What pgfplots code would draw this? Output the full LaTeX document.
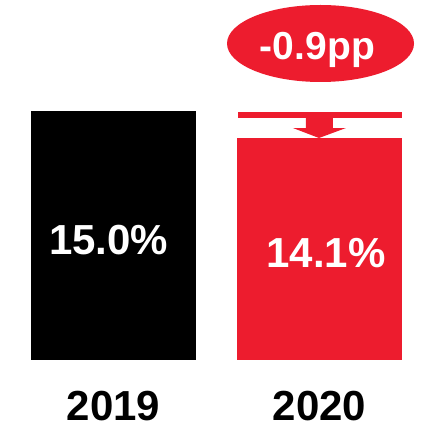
\documentclass[border=0pt]{standalone}
\usepackage{fontspec}
\setmainfont{Liberation Sans}
\usepackage{pgfplots}
\pgfplotsset{compat=1.18}
\definecolor{bred}{HTML}{ED1C2E}
\begin{document}
\begin{tikzpicture}
\begin{axis}[
  name=ax,
  scale only axis,
  width=427pt, height=360pt,
  xmin=-0.551, xmax=1.522,
  ymin=6.7, ymax=18.7,
  ybar, bar width=165pt, bar shift=0pt,
  axis line style={draw=none},
  tick style={draw=none},
  ytick=\empty,
  xtick={0,1},
  xticklabels={2019,2020},
  xticklabel style={font=\fontsize{42}{48}\selectfont\bfseries, inner sep=0pt, yshift=-27pt},
]
\addplot[fill=black, draw=none] coordinates {(0,15.0)};
\addplot[fill=bred, draw=none] coordinates {(1,14.1)};
% annotations
\fill[bred] (axis cs:0.6044,14.767) rectangle (axis cs:1.4005,14.967);
\fill[bred] (axis cs:0.9345,14.767) -- (axis cs:1.0655,14.767) -- (axis cs:1.0655,14.433)
   -- (axis cs:1.1286,14.433) -- (axis cs:0.9976,14.1) -- (axis cs:0.871,14.433)
   -- (axis cs:0.9345,14.433) -- cycle;
\fill[bred] (axis cs:1.005,17.25) ellipse [x radius=93.5pt, y radius=38.5pt];
\node[anchor=base, inner sep=0pt, text=white, font=\fontsize{39}{44}\selectfont\bfseries] at (axis cs:0.990,16.7) {-0.9pp};
\node[anchor=center, inner sep=0pt, text=white, font=\fontsize{42}{48}\selectfont\bfseries] at (axis cs:-0.024,10.7) {15.0\%};
\node[anchor=center, inner sep=0pt, text=white, font=\fontsize{42}{48}\selectfont\bfseries] at (axis cs:1.0316,10.25) {14.1\%};
\end{axis}
\pgfresetboundingbox
\useasboundingbox (ax.south west) ++(0,-68pt) rectangle (ax.north east);
\end{tikzpicture}
\end{document}
